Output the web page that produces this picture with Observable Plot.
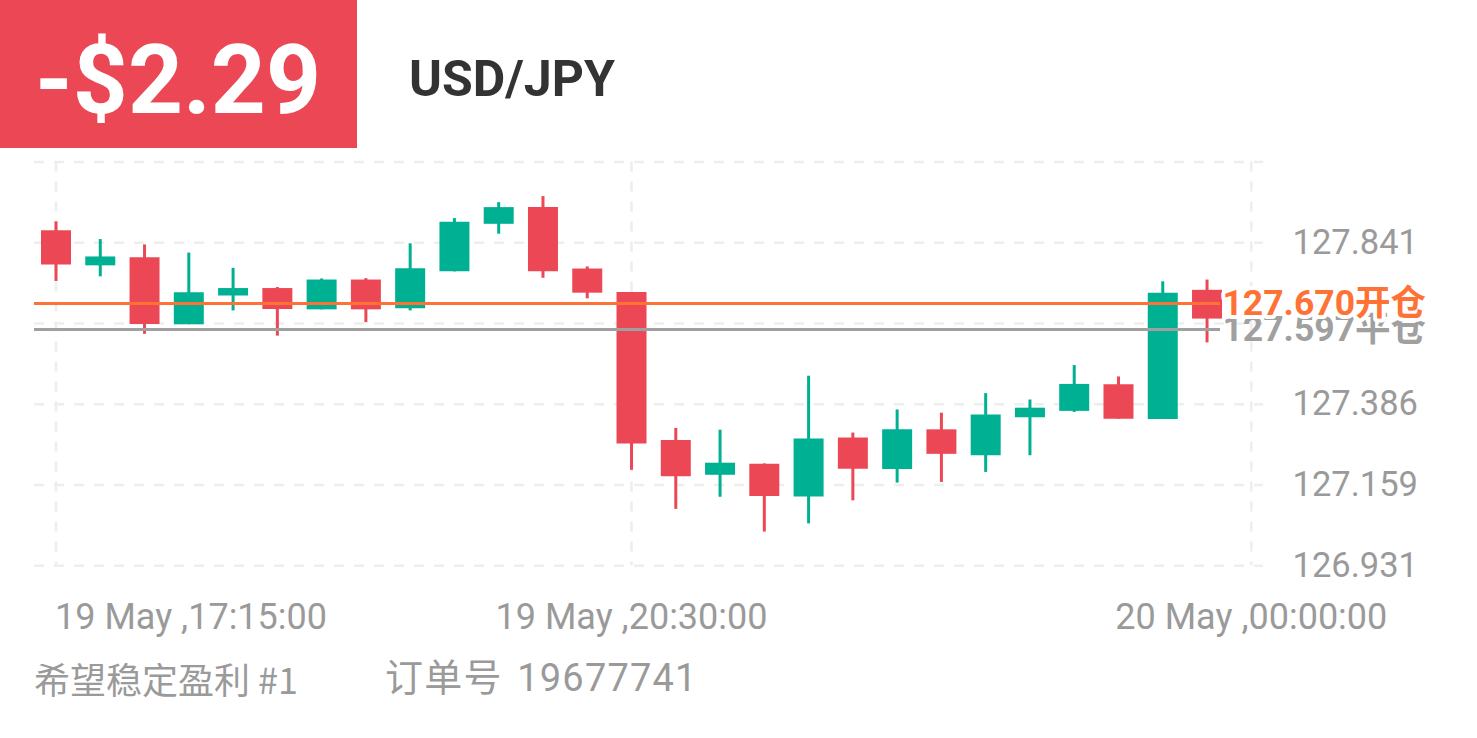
<!DOCTYPE html>
<html>
<head>
<meta charset="utf-8">
<script src="https://cdn.jsdelivr.net/npm/d3@7"></script>
<script src="https://cdn.jsdelivr.net/npm/@observablehq/plot@0.6"></script>
<style>
  html, body { margin: 0; padding: 0; background: #fff; }
  #wrap { position: relative; width: 1477px; height: 738px; overflow: hidden; font-family: Roboto, "Noto Sans CJK SC", sans-serif; }
  #pnl { position: absolute; left: 0; top: 0; width: 357px; height: 148px; background: #EB4755; }
  #pnlText { position: absolute; left: 35px; top: 32px; font-size: 96px; line-height: 96px; font-weight: 700; color: #fff; white-space: nowrap; }
  #sym { position: absolute; left: 409px; top: 54px; font-size: 50px; line-height: 50px; font-weight: 700; color: #333; white-space: nowrap; }
  #chart { position: absolute; left: 0; top: 150px; }
  .foot { position: absolute; white-space: nowrap; color: #9a9a9a; }
  #foot1 { left: 34px; top: 660px; font-size: 36px; line-height: 36px; font-family: "Noto Sans CJK SC", Roboto, sans-serif; }
  #foot2 { left: 385px; top: 659px; font-size: 38px; line-height: 38px; font-family: Roboto, "Noto Sans CJK SC", sans-serif; word-spacing: 4px; letter-spacing: 1.2px; }
</style>
</head>
<body>
<div id="wrap">
  <div id="pnl"><div id="pnlText"></div></div>
  <div id="sym"></div>
  <div id="chart"></div>
  <div class="foot" id="foot1"></div>
  <div class="foot" id="foot2"></div>
</div>
<script>
// ---- header / footer text ----
const pnlLabel = "-$2.29";
const symbolLabel = "USD/JPY";
const footerLabels = ["希望稳定盈利 #1", "订单号 19677741"];

// ---- candle data (15-minute bars, 19 May) ----
const times = ["17:15","17:30","17:45","18:00","18:15","18:30","18:45","19:00","19:15","19:30","19:45","20:00","20:15","20:30","20:45","21:00","21:15","21:30","21:45","22:00","22:15","22:30","22:45","23:00","23:15","23:30","23:45"];
const opens  = [127.875,127.776,127.799,127.610,127.691,127.712,127.652,127.736,127.655,127.759,127.893,127.940,127.767,127.701,127.284,127.186,127.217,127.125,127.291,127.202,127.314,127.241,127.348,127.366,127.441,127.343,127.707];
const closes = [127.778,127.801,127.611,127.700,127.712,127.653,127.736,127.652,127.768,127.899,127.940,127.759,127.699,127.274,127.182,127.220,127.126,127.288,127.203,127.314,127.245,127.356,127.375,127.442,127.344,127.699,127.626];
const highs  = [127.900,127.850,127.835,127.812,127.769,127.715,127.739,127.740,127.838,127.909,127.954,127.971,127.773,127.701,127.318,127.313,127.218,127.465,127.305,127.370,127.361,127.416,127.398,127.495,127.463,127.731,127.736];
const lows   = [127.732,127.745,127.583,127.610,127.649,127.578,127.652,127.616,127.649,127.759,127.865,127.741,127.683,127.200,127.090,127.124,127.026,127.049,127.114,127.164,127.166,127.194,127.241,127.363,127.344,127.343,127.559];

// ---- axes ----
const xTickDates  = ["2022-05-19T17:15Z", "2022-05-19T20:30Z", "2022-05-20T00:00Z"];
const xTickLabels = ["19 May ,17:15:00", "19 May ,20:30:00", "20 May ,00:00:00"];
const yGridValues  = [126.931, 127.1585, 127.386, 127.6135, 127.841, 128.0685];
const yLabelValues = [126.931, 127.1585, 127.386, 127.841];
const yLabels      = ["126.931", "127.159", "127.386", "127.841"];

// ---- position lines ----
const openPrice = 127.670, openLabel = "127.670开仓";
const closePrice = 127.597, closeLabel = "127.597平仓";

const red = "#EB4755", green = "#00B092", orange = "#FF7236", gray = "#A0A0A0";

document.getElementById("pnlText").textContent = pnlLabel;
document.getElementById("sym").textContent = symbolLabel;
document.getElementById("foot1").textContent = footerLabels[0];
document.getElementById("foot2").textContent = footerLabels[1];

const candles = times.map((t, i) => ({
  time: new Date("2022-05-19T" + t + "Z"),
  open: opens[i], close: closes[i], high: highs[i], low: lows[i]
}));
const xTicks = xTickDates.map((d, i) => ({date: new Date(d), label: xTickLabels[i]}));
const colorOf = d => d.close >= d.open ? green : red;

const chart = Plot.plot({
  width: 1477,
  height: 500,
  marginLeft: 34,
  marginRight: 214,
  marginTop: 11.5,
  marginBottom: 84.7,
  insetLeft: 21.5,
  insetRight: 12.2,
  x: {type: "utc", domain: [xTicks[0].date, xTicks[2].date], axis: null},
  y: {domain: [yGridValues[0], yGridValues[yGridValues.length - 1]], axis: null},
  style: {fontFamily: 'Roboto, "Noto Sans CJK SC", sans-serif', background: "transparent", overflow: "visible"},
  marks: [
    Plot.gridY(yGridValues, {stroke: "#EEEEEE", strokeOpacity: 1, strokeWidth: 2.6, strokeDasharray: "10,10"}),
    Plot.gridX(xTicks.map(d => d.date), {stroke: "#EEEEEE", strokeOpacity: 1, strokeWidth: 2.6, strokeDasharray: "10,10"}),
    Plot.ruleX(candles, {x: "time", y1: "low", y2: "high", stroke: colorOf, strokeWidth: 3}),
    Plot.ruleX(candles, {x: "time", y1: "open", y2: "close", stroke: colorOf, strokeWidth: 30}),
    Plot.ruleY([closePrice], {stroke: gray, strokeWidth: 3, insetRight: 43}),
    Plot.ruleY([openPrice], {stroke: orange, strokeWidth: 3, insetRight: 43}),
    Plot.text(yLabelValues, {y: d => d, text: (d, i) => yLabels[i], frameAnchor: "right", dx: 29, textAnchor: "start", lineAnchor: "middle", fontSize: 34.5, fill: "#9a9a9a"}),
    Plot.text([closePrice], {y: d => d, text: () => closeLabel, frameAnchor: "right", dx: -41, textAnchor: "start", lineAnchor: "middle", fontSize: 35.5, fontWeight: 700, fill: gray}),
    Plot.text([openPrice], {y: d => d, text: () => openLabel, frameAnchor: "right", dx: -41, textAnchor: "start", lineAnchor: "middle", fontSize: 35.5, fontWeight: 700, fill: orange, stroke: "white", strokeWidth: 8, paintOrder: "stroke"}),
    Plot.text(xTicks.slice(0, 1), {x: "date", text: "label", frameAnchor: "bottom", dy: 52, dx: -1, textAnchor: "start", lineAnchor: "middle", fontSize: 36, fill: "#9a9a9a"}),
    Plot.text(xTicks.slice(1), {x: "date", text: "label", frameAnchor: "bottom", dy: 52, textAnchor: "middle", lineAnchor: "middle", fontSize: 36, fill: "#9a9a9a"})
  ]
});
document.getElementById("chart").appendChild(chart);
</script>
</body>
</html>
